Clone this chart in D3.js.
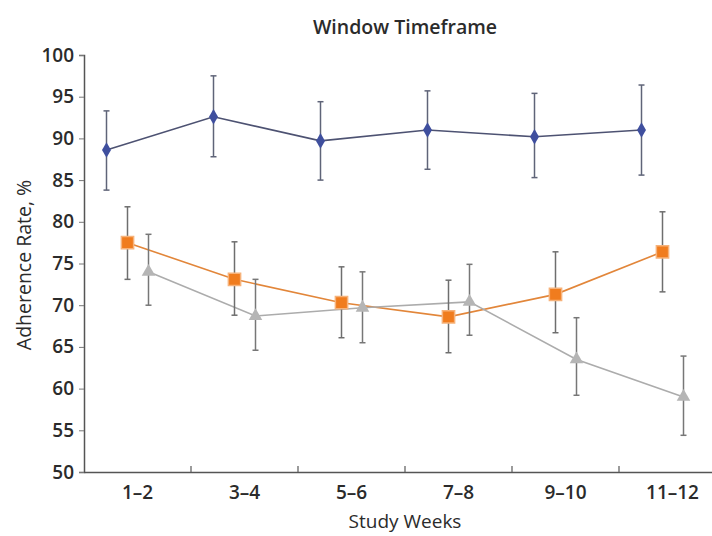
<!DOCTYPE html>
<html>
<head>
<meta charset="utf-8">
<script src="https://cdn.jsdelivr.net/npm/d3@7"></script>
<style>
  body { margin: 0; background: #fff; }
  text { font-family: "Open Sans", "Noto Sans", sans-serif; fill: #2b2b2b; }
</style>
</head>
<body>
<div id="chart"></div>
<script>
var weeks = ["1–2", "3–4", "5–6", "7–8", "9–10", "11–12"];
var seriesNames = ["blue", "orange", "gray"];

// mean, lower bar end, upper bar end
var blueMean = [88.6, 92.6, 89.7, 91.0, 90.2, 91.0];
var blueLow  = [83.8, 87.8, 85.0, 86.3, 85.3, 85.6];
var blueHigh = [93.3, 97.5, 94.4, 95.7, 95.4, 96.4];

var orangeMean = [77.5, 73.1, 70.3, 68.6, 71.3, 76.4];
var orangeLow  = [73.1, 68.8, 66.1, 64.3, 66.7, 71.6];
var orangeHigh = [81.8, 77.6, 74.6, 73.0, 76.4, 81.2];

var grayMean = [74.0, 68.7, 69.7, 70.4, 63.5, 59.0];
var grayLow  = [70.0, 64.6, 65.5, 66.4, 59.2, 54.4];
var grayHigh = [78.5, 73.1, 74.0, 74.9, 68.5, 63.9];

var yTicks = [50, 55, 60, 65, 70, 75, 80, 85, 90, 95, 100];

var W = 712, H = 536;

var svg = d3.select("#chart").append("svg")
  .attr("width", W).attr("height", H);

var x = d3.scaleBand().domain(weeks).range([84, 726]);
var offset = d3.scalePoint().domain(seriesNames).range([-31, 11]);
var y = d3.scaleLinear().domain([50, 100]).range([472, 55]);

var styles = {
  blue:   { line: "#4d5272", fill: "#3f4f9e", bar: "#5f6478" },
  orange: { line: "#e2863a", fill: "#f07c1e", bar: "#6e6e6e" },
  gray:   { line: "#acacac", fill: "#b5b5b5", bar: "#777777" }
};

function build(name, mean, lo, hi) {
  return weeks.map(function(w, i) {
    return { series: name, week: w, v: mean[i], lo: lo[i], hi: hi[i] };
  });
}
var series = [
  build("blue", blueMean, blueLow, blueHigh),
  build("orange", orangeMean, orangeLow, orangeHigh),
  build("gray", grayMean, grayLow, grayHigh)
];

function px(d) { return x(d.week) + x.bandwidth() / 2 + offset(d.series); }

// title
svg.append("text")
  .attr("x", 405).attr("y", 34)
  .attr("text-anchor", "middle")
  .style("font-size", "19.5px").style("font-weight", 600)
  .text("Window Timeframe");

// y axis
var yAxis = svg.append("g")
  .attr("transform", "translate(84,0)")
  .call(d3.axisLeft(y).tickValues(yTicks).tickSize(5).tickPadding(5));
yAxis.select(".domain").attr("stroke", "#555").attr("stroke-width", 1.5);
yAxis.selectAll(".tick line").attr("stroke", "#777");
yAxis.selectAll(".tick text").style("font-size", "19px").style("font-weight", 600).attr("fill", "#333");

// x axis
var xAxis = svg.append("g")
  .attr("transform", "translate(0,472)")
  .call(d3.axisBottom(x).tickSize(0).tickPadding(14));
xAxis.select(".domain").attr("stroke", "#555").attr("stroke-width", 1.5);
xAxis.selectAll(".tick text").style("font-size", "19px").style("font-weight", 600).attr("fill", "#333");
// tick marks between categories
svg.append("g").selectAll("line")
  .data(weeks.slice(1))
  .enter().append("line")
  .attr("x1", function(d) { return x(d); })
  .attr("x2", function(d) { return x(d); })
  .attr("y1", 466).attr("y2", 472)
  .attr("stroke", "#666").attr("stroke-width", 1.3);

// axis titles
svg.append("text")
  .attr("x", 405).attr("y", 528)
  .attr("text-anchor", "middle")
  .style("font-size", "19px").style("font-weight", 500)
  .text("Study Weeks");

svg.append("text")
  .attr("transform", "translate(31,265) rotate(-90)")
  .attr("text-anchor", "middle")
  .style("font-size", "19.5px").style("font-weight", 500)
  .text("Adherence Rate, %");

var line = d3.line().x(px).y(function(d) { return y(d.v); });

// lines
svg.append("g").selectAll("path")
  .data(series)
  .enter().append("path")
  .attr("d", line)
  .attr("fill", "none")
  .attr("stroke", function(s) { return styles[s[0].series].line; })
  .attr("stroke-width", 1.6);

// error bars
var bars = svg.append("g").selectAll("g")
  .data(d3.merge(series))
  .enter().append("g")
  .attr("stroke", function(d) { return styles[d.series].bar; })
  .attr("stroke-width", 1.5);
bars.append("line")
  .attr("x1", px).attr("x2", px)
  .attr("y1", function(d) { return y(d.lo); })
  .attr("y2", function(d) { return y(d.hi); });
bars.append("line")
  .attr("x1", function(d) { return px(d) - 3; })
  .attr("x2", function(d) { return px(d) + 3; })
  .attr("y1", function(d) { return y(d.hi); })
  .attr("y2", function(d) { return y(d.hi); });
bars.append("line")
  .attr("x1", function(d) { return px(d) - 3; })
  .attr("x2", function(d) { return px(d) + 3; })
  .attr("y1", function(d) { return y(d.lo); })
  .attr("y2", function(d) { return y(d.lo); });

// markers
var symbolType = { blue: d3.symbolDiamond, orange: d3.symbolSquare, gray: d3.symbolTriangle };
var symbolSize = { blue: 70, orange: 150, gray: 80 };
svg.append("g").selectAll("path")
  .data(d3.merge(series))
  .enter().append("path")
  .attr("transform", function(d) { return "translate(" + px(d) + "," + y(d.v) + ")"; })
  .attr("d", function(d) { return d3.symbol().type(symbolType[d.series]).size(symbolSize[d.series])(); })
  .attr("fill", function(d) { return styles[d.series].fill; })
  .attr("stroke", function(d) { return d.series == "orange" ? "#f6b27a" : "none"; })
  .attr("stroke-width", 1.5);
</script>
</body>
</html>
